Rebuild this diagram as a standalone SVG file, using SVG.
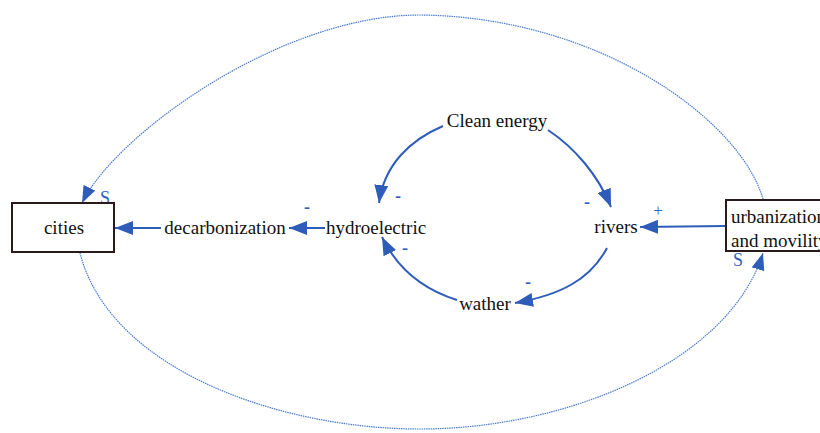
<svg xmlns="http://www.w3.org/2000/svg" width="820" height="433" viewBox="0 0 820 433">
<defs>
<marker id="ah" markerUnits="userSpaceOnUse" markerWidth="20" markerHeight="14" refX="18" refY="7" orient="auto">
<path d="M0,0 L18,7 L0,14 Z" fill="#2d5cb9"/>
</marker>
<marker id="ahs" markerUnits="userSpaceOnUse" markerWidth="18" markerHeight="14" refX="17" refY="7" orient="auto">
<path d="M0,0.5 L17,7 L0,13.5 Z" fill="#2d5cb9"/>
</marker>
</defs>
<style>
.nodetext{font-family:'Liberation Serif','Times New Roman','DejaVu Serif',serif;font-size:19px;fill:#111111;text-anchor:middle}
.lbl{font-family:'Liberation Serif','Times New Roman','DejaVu Serif',serif;fill:#3460c0;text-anchor:middle}
.c{fill:none;stroke:#2d5cb9;stroke-width:2}
.o{fill:none;stroke:#4a7dd0;stroke-width:1.2;stroke-dasharray:1.5 0.8}
.box{fill:#fff;stroke:#2a1a1a;stroke-width:2}
</style>
<rect width="820" height="433" fill="#fff"/>
<g id="connectors">
<path class="o" d="M 763 199 C 740 120, 600 17, 420 15 C 280 15, 115 135, 82 203" marker-end="url(#ahs)"/>
<path class="o" d="M 80 253 C 110 370, 280 429, 420 429 C 570 429, 730 360, 763 253" marker-end="url(#ahs)"/>
<path class="c" d="M 443 126 C 410 140, 384 165, 379 203" marker-end="url(#ah)"/>
<path class="c" d="M 548 130 C 575 148, 598 175, 611 207" marker-end="url(#ah)"/>
<path class="c" d="M 607 248 C 590 280, 560 295, 515 303" marker-end="url(#ah)"/>
<path class="c" d="M 457 300 C 425 290, 398 270, 382 237" marker-end="url(#ah)"/>
<path class="c" d="M 325 228 L 289 228" marker-end="url(#ah)"/>
<path class="c" d="M 161 228 L 115 228" marker-end="url(#ah)"/>
<path class="c" d="M 726 226 L 640 227" marker-end="url(#ah)"/>
<text class="lbl" x="398" y="202" font-size="18" font-weight="bold">-</text>
<text class="lbl" x="307" y="213" font-size="18" font-weight="bold">-</text>
<text class="lbl" x="405" y="254" font-size="18" font-weight="bold">-</text>
<text class="lbl" x="587" y="208" font-size="18" font-weight="bold">-</text>
<text class="lbl" x="528" y="288" font-size="18" font-weight="bold">-</text>
<text class="lbl" x="658" y="216" font-size="17">+</text>
<text class="lbl" x="105" y="204" font-size="18">S</text>
<text class="lbl" x="738" y="266" font-size="18">S</text>
</g>
<g id="cities">
<rect class="box" x="12" y="203" width="102" height="49"/>
<text class="nodetext" x="64" y="234">cities</text>
</g>
<g id="decarbonization">
<text class="nodetext" x="225" y="234">decarbonization</text>
</g>
<g id="hydroelectric">
<text class="nodetext" x="376" y="234">hydroelectric</text>
</g>
<g id="clean-energy">
<text class="nodetext" x="497" y="127">Clean energy</text>
</g>
<g id="rivers">
<text class="nodetext" x="616" y="233">rivers</text>
</g>
<g id="wather">
<text class="nodetext" x="485" y="310">wather</text>
</g>
<g id="urbanization">
<rect class="box" x="726" y="200" width="110" height="51"/>
<text class="nodetext" x="731" y="223" style="text-anchor:start">urbanization</text>
<text class="nodetext" x="731" y="247" style="text-anchor:start">and movility</text>
</g>
</svg>
